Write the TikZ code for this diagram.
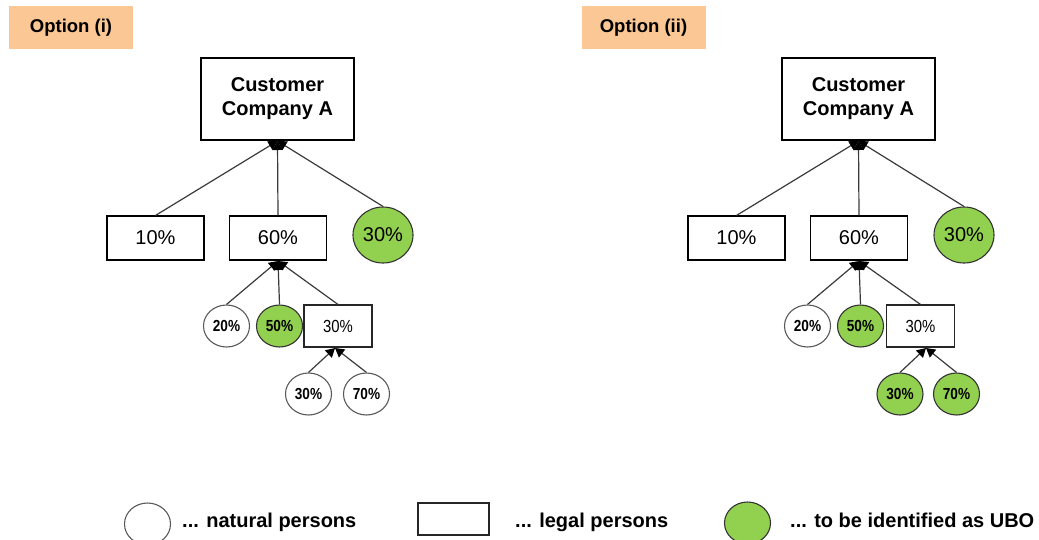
\documentclass[tikz,border=0pt]{standalone}
\usepackage{fontspec}
\setmainfont{Liberation Sans}
\newfontfamily\narrowfont[FakeStretch=0.85]{Liberation Sans}
\usetikzlibrary{shapes.geometric,arrows.meta}
\definecolor{ubo}{HTML}{92D050}
\definecolor{optfill}{HTML}{FBC794}
\definecolor{linec}{HTML}{3A3A3A}
\begin{document}
\begin{tikzpicture}[x=1pt,y=-1pt,
  optlabel/.style={fill=optfill, minimum width=124pt, minimum height=43pt, inner sep=0pt, font=\fontsize{18.5}{20}\selectfont\bfseries},
  topbox/.style={draw=black, line width=1.1pt, fill=white, minimum width=153pt, minimum height=82pt, inner sep=0pt, align=center, font=\fontsize{20}{24}\selectfont\bfseries},
  midbox/.style={draw=black, line width=1.1pt, fill=white, minimum width=97pt, minimum height=44pt, inner sep=0pt, font=\fontsize{20}{22}\selectfont},
  bigubo/.style={ellipse, draw=black!80, line width=1.1pt, fill=ubo, minimum width=60pt, minimum height=56pt, inner sep=0pt, font=\fontsize{20}{22}\selectfont},
  person/.style={ellipse, draw=black!65, line width=1.1pt, fill=white, minimum width=46pt, minimum height=42pt, inner sep=0pt, font=\narrowfont\bfseries\fontsize{16}{18}\selectfont},
  uboperson/.style={person, draw=black!80, fill=ubo},
  smallbox/.style={draw=black!85, line width=1.1pt, fill=white, minimum width=68pt, minimum height=42pt, inner sep=0pt, font=\narrowfont\fontsize{17.5}{19}\selectfont},
  legtext/.style={inner sep=0pt, anchor=base west, font=\fontsize{20}{22}\selectfont\bfseries},
  link/.style={draw=linec, line width=1.2pt, -{Triangle[length=9pt,width=10pt,black]}}
]
\useasboundingbox (0,0) rectangle (1039,539);

% ---------- Option (i) ----------
\node[optlabel] (optI) at (71,27.5) {Option (i)};
\node[topbox] (custL) at (277.5,99) {Customer\\Company A};
\coordinate (jL1) at (277.5,141);
\node[midbox] (l10) at (155.5,238) {10\%};
\node[midbox] (l60) at (278,238) {60\%};
\node[bigubo] (l30) at (383,235) {30\%};
\coordinate (jL2) at (278,261);
\node[person] (l20s) at (226.5,326) {20\%};
\node[uboperson] (l50s) at (279.5,326) {50\%};
\node[smallbox] (l30b) at (338,326) {30\%};
\coordinate (jL3) at (335,348);
\node[person] (l30c) at (308.5,394) {30\%};
\node[person] (l70c) at (366.5,394) {70\%};

\draw[link] (l10.north) -- (jL1);
\draw[link] (l60.north) -- (jL1);
\draw[link] (l30.north) -- (jL1);
\draw[link] (l20s.north) -- (jL2);
\draw[link] (l50s.north) -- (jL2);
\draw[link] (l30b.north) -- (jL2);
\draw[link] (l30c.north) -- (jL3);
\draw[link] (l70c.north) -- (jL3);

% ---------- Option (ii) ----------
\node[optlabel] (optII) at (643.5,27.5) {Option (ii)};
\node[topbox] (custR) at (858.5,99) {Customer\\Company A};
\coordinate (jR1) at (858.5,141);
\node[midbox] (r10) at (736.5,238) {10\%};
\node[midbox] (r60) at (859,238) {60\%};
\node[bigubo] (r30) at (964,235) {30\%};
\coordinate (jR2) at (859,261);
\node[person] (r20s) at (807.5,326) {20\%};
\node[uboperson] (r50s) at (860.5,326) {50\%};
\node[smallbox] (r30b) at (920.5,326) {30\%};
\coordinate (jR3) at (926,348);
\node[uboperson] (r30c) at (900,394) {30\%};
\node[uboperson] (r70c) at (956.5,394) {70\%};

\draw[link] (r10.north) -- (jR1);
\draw[link] (r60.north) -- (jR1);
\draw[link] (r30.north) -- (jR1);
\draw[link] (r20s.north) -- (jR2);
\draw[link] (r50s.north) -- (jR2);
\draw[link] (r30b.north) -- (jR2);
\draw[link] (r30c.north) -- (jR3);
\draw[link] (r70c.north) -- (jR3);

% ---------- Legend ----------
\node[person] (legN) at (147.5,524) {};
\node[legtext] (legNt) at (182,527) {... natural persons};
\node[draw=black!85, line width=1.1pt, minimum width=71pt, minimum height=32pt, inner sep=0pt] (legL) at (453.5,519) {};
\node[legtext] (legLt) at (515,527) {... legal persons};
\node[uboperson] (legU) at (747.5,523) {};
\node[legtext] (legUt) at (790,527) {... to be identified as UBO};
\end{tikzpicture}
\end{document}
